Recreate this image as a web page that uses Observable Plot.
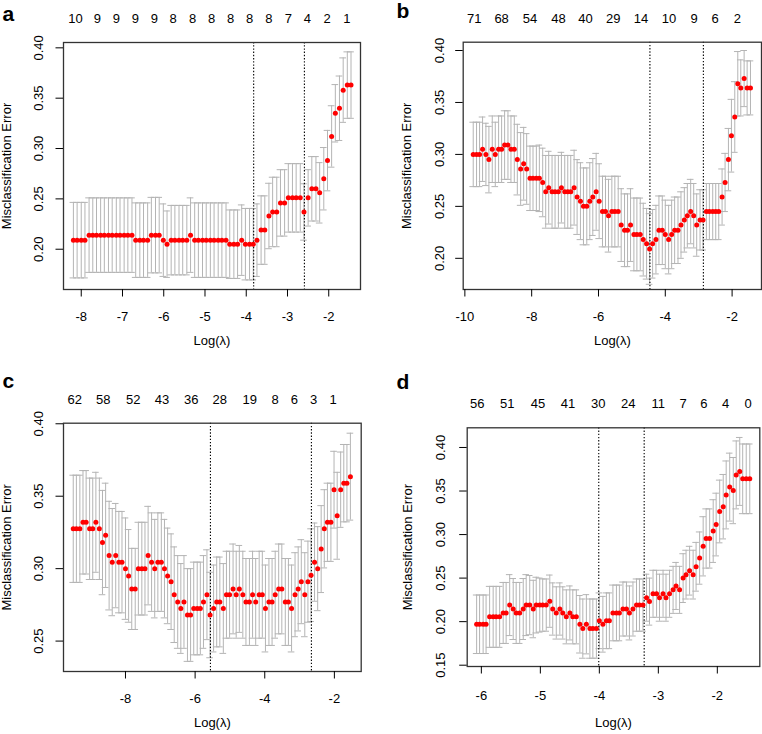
<!DOCTYPE html>
<html><head><meta charset="utf-8">
<script src="https://cdn.jsdelivr.net/npm/d3@7"></script>
<script src="https://cdn.jsdelivr.net/npm/@observablehq/plot@0.6"></script>
<style>
html,body{margin:0;padding:0;background:#fff;}
#wrap{position:relative;width:762px;height:734px;overflow:hidden;background:#fff;}
#wrap svg{position:absolute;}
</style></head><body><div id="wrap"></div>
<script>
// ---------- Panel a ----------
const aLogLambda = [-8.19,-8.10,-8.00,-7.91,-7.81,-7.72,-7.63,-7.53,-7.44,-7.34,
-7.25,-7.15,-7.06,-6.96,-6.87,-6.77,-6.68,-6.58,-6.49,-6.39,
-6.30,-6.20,-6.11,-6.01,-5.92,-5.82,-5.73,-5.63,-5.54,-5.44,
-5.35,-5.25,-5.16,-5.06,-4.97,-4.87,-4.78,-4.68,-4.59,-4.49,
-4.40,-4.30,-4.21,-4.11,-4.02,-3.92,-3.83,-3.74,-3.64,-3.55,
-3.45,-3.36,-3.26,-3.17,-3.07,-2.98,-2.88,-2.79,-2.69,-2.60,
-2.50,-2.41,-2.31,-2.22,-2.12,-2.03,-1.93,-1.84,-1.74,-1.65,
-1.55,-1.46];
const aCvm = [0.209,0.209,0.209,0.209,0.214,0.214,0.214,0.214,0.214,0.214,
0.214,0.214,0.214,0.214,0.214,0.214,0.209,0.209,0.209,0.209,
0.214,0.214,0.214,0.209,0.205,0.209,0.209,0.209,0.209,0.209,
0.214,0.209,0.209,0.209,0.209,0.209,0.209,0.209,0.209,0.209,
0.205,0.205,0.205,0.209,0.205,0.205,0.205,0.209,0.219,0.219,
0.233,0.237,0.237,0.246,0.246,0.251,0.251,0.251,0.251,0.237,
0.251,0.260,0.260,0.256,0.270,0.288,0.312,0.335,0.340,0.358,
0.363,0.363];
const aCvsd = [0.0375,0.0375,0.0375,0.0375,0.037,0.037,0.037,0.037,0.037,0.037,
0.037,0.037,0.037,0.037,0.037,0.037,0.037,0.037,0.037,0.037,
0.0375,0.0375,0.0375,0.036,0.033,0.0345,0.0345,0.0345,0.0345,0.0345,
0.037,0.037,0.037,0.037,0.037,0.037,0.037,0.037,0.037,0.037,
0.034,0.034,0.034,0.035,0.0355,0.0355,0.0355,0.036,0.034,0.034,
0.0325,0.0345,0.0345,0.033,0.033,0.034,0.034,0.034,0.034,0.028,
0.028,0.032,0.032,0.030,0.031,0.030,0.0305,0.0285,0.032,0.032,
0.033,0.033];
const aNzAt = [-8.14,-7.61,-7.15,-6.69,-6.23,-5.77,-5.30,-4.84,-4.38,-3.92,-3.45,-2.98,-2.52,-2.04,-1.56];
const aNz = ["10","9","9","9","9","8","8","8","8","8","8","7","4","2","1"];
const aVlines = [-3.82, -2.59];
const aXTicks = [-8,-7,-6,-5,-4,-3,-2];
const aYTicks = [0.20,0.25,0.30,0.35,0.40];

// ---------- Panel b ----------
const bLogLambda = [-9.75,-9.65,-9.56,-9.47,-9.37,-9.28,-9.18,-9.09,-8.99,-8.90,
-8.81,-8.71,-8.62,-8.52,-8.43,-8.33,-8.24,-8.15,-8.05,-7.96,
-7.86,-7.77,-7.67,-7.58,-7.49,-7.39,-7.30,-7.20,-7.11,-7.01,
-6.92,-6.83,-6.73,-6.64,-6.54,-6.45,-6.35,-6.26,-6.17,-6.07,
-5.98,-5.88,-5.79,-5.70,-5.60,-5.51,-5.41,-5.32,-5.22,-5.13,
-5.04,-4.94,-4.85,-4.75,-4.66,-4.56,-4.47,-4.38,-4.28,-4.19,
-4.09,-4.00,-3.90,-3.81,-3.72,-3.62,-3.53,-3.43,-3.34,-3.24,
-3.15,-3.06,-2.96,-2.87,-2.77,-2.68,-2.58,-2.49,-2.40,-2.30,
-2.21,-2.11,-2.02,-1.92,-1.83,-1.74,-1.64,-1.55,-1.45];
const bCvm = [0.300,0.300,0.300,0.305,0.300,0.295,0.305,0.300,0.305,0.305,
0.309,0.309,0.305,0.305,0.295,0.286,0.291,0.286,0.277,0.277,
0.277,0.277,0.273,0.264,0.268,0.264,0.264,0.264,0.268,0.264,
0.264,0.264,0.268,0.259,0.255,0.250,0.250,0.255,0.259,0.264,
0.255,0.245,0.245,0.241,0.245,0.245,0.245,0.232,0.227,0.227,
0.232,0.223,0.223,0.223,0.218,0.214,0.209,0.214,0.218,0.227,
0.227,0.223,0.218,0.223,0.227,0.227,0.232,0.237,0.241,0.245,
0.241,0.232,0.237,0.237,0.245,0.245,0.245,0.245,0.245,0.259,
0.273,0.295,0.318,0.336,0.368,0.364,0.373,0.364,0.364];
const bCvsd = [0.031,0.031,0.031,0.031,0.030,0.032,0.032,0.031,0.032,0.032,
0.033,0.033,0.032,0.032,0.034,0.035,0.035,0.034,0.031,0.031,
0.031,0.032,0.033,0.035,0.035,0.035,0.035,0.035,0.034,0.035,
0.035,0.035,0.036,0.036,0.037,0.037,0.037,0.037,0.037,0.037,
0.036,0.034,0.034,0.035,0.034,0.034,0.034,0.035,0.035,0.035,
0.035,0.035,0.035,0.035,0.035,0.034,0.034,0.033,0.033,0.033,
0.033,0.033,0.033,0.033,0.032,0.032,0.032,0.031,0.031,0.031,
0.031,0.030,0.029,0.029,0.027,0.027,0.027,0.027,0.027,0.027,
0.028,0.030,0.035,0.034,0.031,0.027,0.027,0.026,0.026];
const bNzAt = [-9.72,-8.90,-8.05,-7.20,-6.39,-5.56,-4.73,-3.89,-3.14,-2.51,-1.84];
const bNz = ["71","68","54","48","40","29","14","10","9","6","2"];
const bVlines = [-4.46, -2.86];
const bXTicks = [-10,-8,-6,-4,-2];
const bYTicks = [0.20,0.25,0.30,0.35,0.40];

// ---------- Panel c ----------
const cLogLambda = [-9.50,-9.41,-9.31,-9.22,-9.13,-9.03,-8.94,-8.85,-8.75,-8.66,
-8.57,-8.47,-8.38,-8.28,-8.19,-8.10,-8.00,-7.91,-7.82,-7.72,
-7.63,-7.53,-7.44,-7.35,-7.25,-7.16,-7.07,-6.97,-6.88,-6.79,
-6.69,-6.60,-6.50,-6.41,-6.32,-6.22,-6.13,-6.04,-5.94,-5.85,
-5.76,-5.66,-5.57,-5.47,-5.38,-5.29,-5.19,-5.10,-5.01,-4.91,
-4.82,-4.73,-4.63,-4.54,-4.44,-4.35,-4.26,-4.16,-4.07,-3.98,
-3.88,-3.79,-3.70,-3.60,-3.51,-3.41,-3.32,-3.23,-3.13,-3.04,
-2.95,-2.85,-2.76,-2.67,-2.57,-2.48,-2.38,-2.29,-2.20,-2.10,
-2.01,-1.92,-1.82,-1.73,-1.64,-1.54];
const cCvm = [0.3275,0.3275,0.3275,0.332,0.332,0.3275,0.3275,0.332,0.3275,0.318,
0.323,0.309,0.3045,0.309,0.3045,0.3045,0.300,0.295,0.286,0.286,
0.300,0.300,0.300,0.309,0.3045,0.300,0.3045,0.3045,0.300,0.295,
0.291,0.282,0.277,0.2725,0.277,0.268,0.268,0.2725,0.2725,0.2725,
0.277,0.282,0.268,0.2725,0.277,0.277,0.2725,0.282,0.282,0.286,
0.282,0.286,0.282,0.277,0.277,0.282,0.277,0.282,0.282,0.2725,
0.277,0.277,0.282,0.286,0.286,0.277,0.277,0.2725,0.282,0.286,
0.291,0.282,0.291,0.2955,0.3045,0.300,0.3135,0.3275,0.332,0.332,
0.3545,0.3365,0.3545,0.359,0.359,0.3635];
const cCvsd = [0.037,0.037,0.037,0.0357,0.0357,0.035,0.035,0.0345,0.035,0.036,
0.036,0.0375,0.037,0.036,0.035,0.035,0.035,0.032,0.028,0.028,
0.032,0.032,0.032,0.034,0.034,0.034,0.034,0.034,0.034,0.033,
0.033,0.033,0.032,0.031,0.032,0.032,0.032,0.032,0.032,0.032,
0.032,0.031,0.0295,0.030,0.031,0.031,0.031,0.030,0.030,0.031,
0.030,0.030,0.030,0.030,0.030,0.030,0.030,0.030,0.030,0.030,
0.030,0.030,0.030,0.031,0.031,0.030,0.030,0.030,0.029,0.029,
0.029,0.029,0.028,0.032,0.027,0.029,0.030,0.027,0.027,0.027,
0.0265,0.030,0.026,0.0267,0.0267,0.030];
const cNzAt = [-9.46,-8.64,-7.78,-6.95,-6.11,-5.29,-4.43,-3.70,-3.15,-2.60,-2.04];
const cNz = ["62","58","52","43","36","28","19","8","6","3","1"];
const cVlines = [-5.56, -2.66];
const cXTicks = [-8,-6,-4,-2];
const cYTicks = [0.25,0.30,0.35,0.40];

// ---------- Panel d ----------
const dLogLambda = [-6.08,-6.03,-5.97,-5.92,-5.86,-5.80,-5.75,-5.69,-5.63,-5.58,
-5.52,-5.46,-5.41,-5.35,-5.29,-5.24,-5.18,-5.12,-5.07,-5.01,
-4.96,-4.90,-4.84,-4.79,-4.73,-4.67,-4.62,-4.56,-4.50,-4.45,
-4.39,-4.33,-4.28,-4.22,-4.16,-4.11,-4.05,-4.00,-3.94,-3.88,
-3.83,-3.77,-3.71,-3.66,-3.60,-3.54,-3.49,-3.43,-3.37,-3.32,
-3.26,-3.20,-3.15,-3.09,-3.03,-2.98,-2.92,-2.87,-2.81,-2.75,
-2.70,-2.64,-2.58,-2.53,-2.47,-2.41,-2.36,-2.30,-2.24,-2.19,
-2.13,-2.07,-2.02,-1.96,-1.90,-1.85,-1.79,-1.73,-1.68,-1.62,
-1.57,-1.51,-1.45];
const dCvm = [0.197,0.197,0.197,0.197,0.2055,0.2055,0.2055,0.2055,0.210,0.210,
0.219,0.2145,0.210,0.210,0.2145,0.219,0.219,0.2145,0.219,0.219,
0.219,0.219,0.2235,0.2145,0.210,0.2145,0.210,0.2055,0.210,0.2055,
0.2055,0.197,0.192,0.197,0.192,0.192,0.192,0.201,0.197,0.201,
0.201,0.210,0.210,0.210,0.2145,0.2145,0.210,0.2145,0.219,0.219,
0.219,0.2275,0.223,0.232,0.232,0.2275,0.232,0.2275,0.232,0.2365,
0.241,0.2365,0.250,0.254,0.2585,0.254,0.263,0.273,0.2865,0.2955,
0.2955,0.304,0.3115,0.3265,0.332,0.3455,0.3545,0.3505,0.3685,0.3725,
0.364,0.364,0.364];
const dCvsd = [0.0336,0.0336,0.0336,0.0336,0.035,0.035,0.035,0.035,0.035,0.035,
0.035,0.035,0.035,0.035,0.035,0.035,0.034,0.033,0.032,0.031,
0.030,0.030,0.030,0.030,0.030,0.030,0.030,0.031,0.031,0.031,
0.031,0.033,0.034,0.034,0.034,0.034,0.034,0.032,0.032,0.032,
0.032,0.032,0.032,0.032,0.031,0.031,0.031,0.031,0.030,0.030,
0.030,0.027,0.027,0.027,0.027,0.027,0.027,0.027,0.027,0.027,
0.027,0.027,0.028,0.028,0.028,0.028,0.028,0.030,0.034,0.034,
0.034,0.036,0.036,0.036,0.037,0.039,0.039,0.038,0.039,0.039,
0.040,0.040,0.040];
const dNzAt = [-6.07,-5.56,-5.04,-4.53,-4.02,-3.51,-3.00,-2.58,-2.23,-1.86,-1.48];
const dNz = ["56","51","45","41","30","24","11","7","6","4","0"];
const dVlines = [-4.01, -3.24];
const dXTicks = [-6,-5,-4,-3,-2];
const dYTicks = [0.15,0.20,0.25,0.30,0.35,0.40];

const xTitle = "Log(\u03bb)";
const yTitle = "Misclassification Error";

// ---------- drawing ----------
const FONT = '"Liberation Sans", Arial, Helvetica, sans-serif';
const GREY = "#b4b4b4";
const FS = 13;

function panel(o) {
  const rows = o.logLambda.map((x, i) => ({x, y: o.cvm[i], lo: o.cvm[i] - o.cvsd[i], hi: o.cvm[i] + o.cvsd[i]}));
  const ext = d3.extent(o.logLambda);
  const bw = (ext[1] - ext[0]) * 0.012;
  const svg = Plot.plot({
    width: 381, height: 367,
    marginTop: o.m[0], marginRight: o.m[1], marginBottom: o.m[2], marginLeft: o.m[3],
    x: {domain: o.xDomain},
    y: {domain: o.yDomain},
    style: {fontFamily: FONT, fontSize: FS + "px", color: "#000", background: "transparent", overflow: "visible"},
    marks: [
      Plot.ruleX(rows, {x: "x", y1: "lo", y2: "hi", stroke: GREY, strokeWidth: 1}),
      Plot.ruleY(rows, {y: "hi", x1: d => d.x - bw, x2: d => d.x + bw, stroke: GREY, strokeWidth: 1}),
      Plot.ruleY(rows, {y: "lo", x1: d => d.x - bw, x2: d => d.x + bw, stroke: GREY, strokeWidth: 1}),
      Plot.ruleX(o.vlines, {x: d => d, stroke: "#000", strokeWidth: 1.1, strokeDasharray: "1.4,1.8"}),
      Plot.dot(rows, {x: "x", y: "y", r: 2.5, fill: "#ff0000"}),
      Plot.frame({stroke: "#333", strokeWidth: 1.3}),
      Plot.axisX({ticks: o.xTicks, tickSize: 7.5, tickPadding: o.xPad, tickFormat: d => String(d), fontSize: FS, label: null}),
      Plot.axisY({ticks: o.yTicks, tickSize: 7.5, tickFormat: () => "", label: null}),
      Plot.text(o.yTicks, {y: d => d, text: d => d.toFixed(2), frameAnchor: "left", textAnchor: "middle", dx: o.yLabDx, rotate: -90, fontSize: FS}),
      Plot.text([yTitle], {text: d => d, frameAnchor: "left", textAnchor: "middle", dx: o.yTitleDx, rotate: -90, fontSize: FS}),
      Plot.text([xTitle], {text: d => d, frameAnchor: "bottom", textAnchor: "middle", dy: o.xTitleDy, fontSize: FS}),
      Plot.text(o.nzAt, {x: d => d, text: (d, i) => o.nz[i], frameAnchor: "top", textAnchor: "middle", dy: -19.5, lineAnchor: "bottom", fontSize: FS}),
      Plot.text([o.letter], {text: d => d, frameAnchor: "top-left", dx: o.letterDx, dy: o.letterDy, lineAnchor: "bottom", textAnchor: "start", fontWeight: "bold", fontSize: 21})
    ]
  });
  svg.style.left = o.left + "px";
  svg.style.top = o.top + "px";
  document.getElementById("wrap").appendChild(svg);
}

panel({letter: "a", left: 0, top: 0, m: [42, 21, 78, 63],
  xDomain: [-8.43, -1.23], yDomain: [0.160, 0.4053],
  logLambda: aLogLambda, cvm: aCvm, cvsd: aCvsd, nzAt: aNzAt, nz: aNz, vlines: aVlines,
  xTicks: aXTicks, yTicks: aYTicks, xPad: 14.5, yLabDx: -24.7, yTitleDx: -56.3, xTitleDy: 55,
  letterDx: -61, letterDy: -22});

panel({letter: "b", left: 381, top: 0, m: [41.7, 1, 78, 81.7],
  xDomain: [-10.05, -1.12], yDomain: [0.170, 0.408],
  logLambda: bLogLambda, cvm: bCvm, cvsd: bCvsd, nzAt: bNzAt, nz: bNz, vlines: bVlines,
  xTicks: bXTicks, yTicks: bYTicks, xPad: 14.5, yLabDx: -23.2, yTitleDx: -56, xTitleDy: 55,
  letterDx: -66.7, letterDy: -24.4});

panel({letter: "c", left: 0, top: 367, m: [55.7, 20.3, 63, 63],
  xDomain: [-9.78, -1.23], yDomain: [0.229, 0.4004],
  logLambda: cLogLambda, cvm: cCvm, cvsd: cCvsd, nzAt: cNzAt, nz: cNz, vlines: cVlines,
  xTicks: cXTicks, yTicks: cYTicks, xPad: 14.3, yLabDx: -24.3, yTitleDx: -56.3, xTitleDy: 55,
  letterDx: -61, letterDy: -35.7});

panel({letter: "d", left: 381, top: 367, m: [60.3, 2.7, 68, 85.7],
  xDomain: [-6.24, -1.28], yDomain: [0.1485, 0.4226],
  logLambda: dLogLambda, cvm: dCvm, cvsd: dCvsd, nzAt: dNzAt, nz: dNz, vlines: dVlines,
  xTicks: dXTicks, yTicks: dYTicks, xPad: 16.5, yLabDx: -26.3, yTitleDx: -59.5, xTitleDy: 60,
  letterDx: -70.7, letterDy: -39.3});
</script>
</body></html>
